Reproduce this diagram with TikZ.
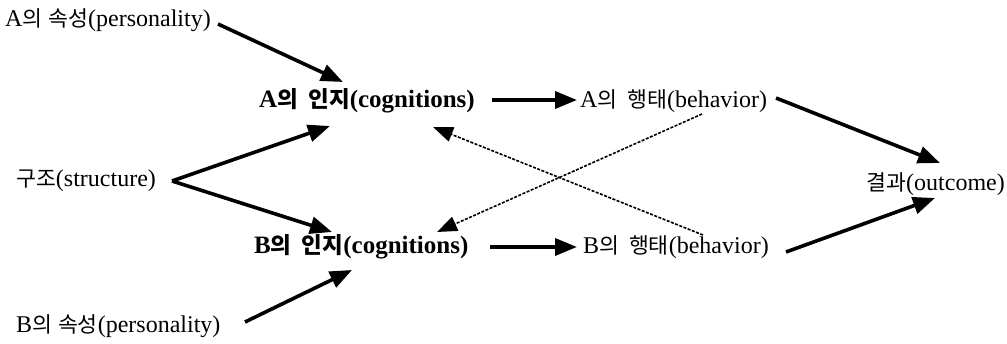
\documentclass[tikz,border=0pt]{standalone}
\usepackage{fontspec}
\setmainfont{Liberation Serif}
\newfontfamily\kr[Scale=0.9]{Noto Sans CJK KR}
\usetikzlibrary{arrows.meta}
\tikzset{
  lbl/.style={inner sep=0pt, font=\fontsize{24}{28}\selectfont},
  blbl/.style={inner sep=0pt, font=\fontsize{25}{29}\selectfont\bfseries},
  solidarr/.style={line width=3.6pt, -{Triangle[length=22pt,width=17pt]}},
  dasharr/.style={line width=1.6pt, dash pattern=on 3pt off 1.5pt, -{Triangle[length=20pt,width=15pt]}},
}
\begin{document}
\begin{tikzpicture}[x=1pt,y=-1pt]
\useasboundingbox (0,0) rectangle (1007,344);
\node[lbl, anchor=west] (apers) at (5,20) {A{\kr 의} {\kr 속성}(personality)};
\node[blbl, anchor=west] (acog) at (259,101) {A{\kr 의}\, {\kr 인지}(cognitions)};
\node[lbl, anchor=west] (abeh) at (580,101) {A{\kr 의}\, {\kr 행태}(behavior)};
\node[lbl, anchor=west] (struct) at (16,181) {{\kr 구조}(structure)};
\node[blbl, anchor=west] (bcog) at (254,247) {B{\kr 의}\, {\kr 인지}(cognitions)};
\node[lbl, anchor=west] (bbeh) at (583,247) {B{\kr 의}\, {\kr 행태}(behavior)};
\node[lbl, anchor=east] (outc) at (1005,184) {{\kr 결과}(outcome)};
\node[lbl, anchor=west] (bpers) at (16,326) {B{\kr 의} {\kr 속성}(personality)};
% solid arrows
\draw[solidarr] ([shift={(213,4)}]apers.west) -- ([shift={(84,-19)}]acog.west);
\draw[solidarr] ([shift={(156,0)}]struct.west) -- ([shift={(71,25)}]acog.west);
\draw[solidarr] ([shift={(156,0)}]struct.west) -- ([shift={(78,-15)}]bcog.west);
\draw[solidarr] ([shift={(229,-4)}]bpers.west) -- ([shift={(98,23)}]bcog.west);
\draw[solidarr] ([shift={(233,-1)}]acog.west) -- ([shift={(-3,-1)}]abeh.west);
\draw[solidarr] ([shift={(236,0)}]bcog.west) -- ([shift={(-6,0)}]bbeh.west);
\draw[solidarr] ([shift={(196,-3)}]abeh.west) -- ([shift={(-65,-21)}]outc.east);
\draw[solidarr] ([shift={(203,5)}]bbeh.west) -- ([shift={(-70,14)}]outc.east);
% dashed arrows
\draw[dasharr] ([shift={(122,13)}]abeh.west) -- ([shift={(183,-15)}]bcog.west);
\draw[dasharr] ([shift={(120,-12)}]bbeh.west) -- ([shift={(174,26)}]acog.west);
\end{tikzpicture}
\end{document}
